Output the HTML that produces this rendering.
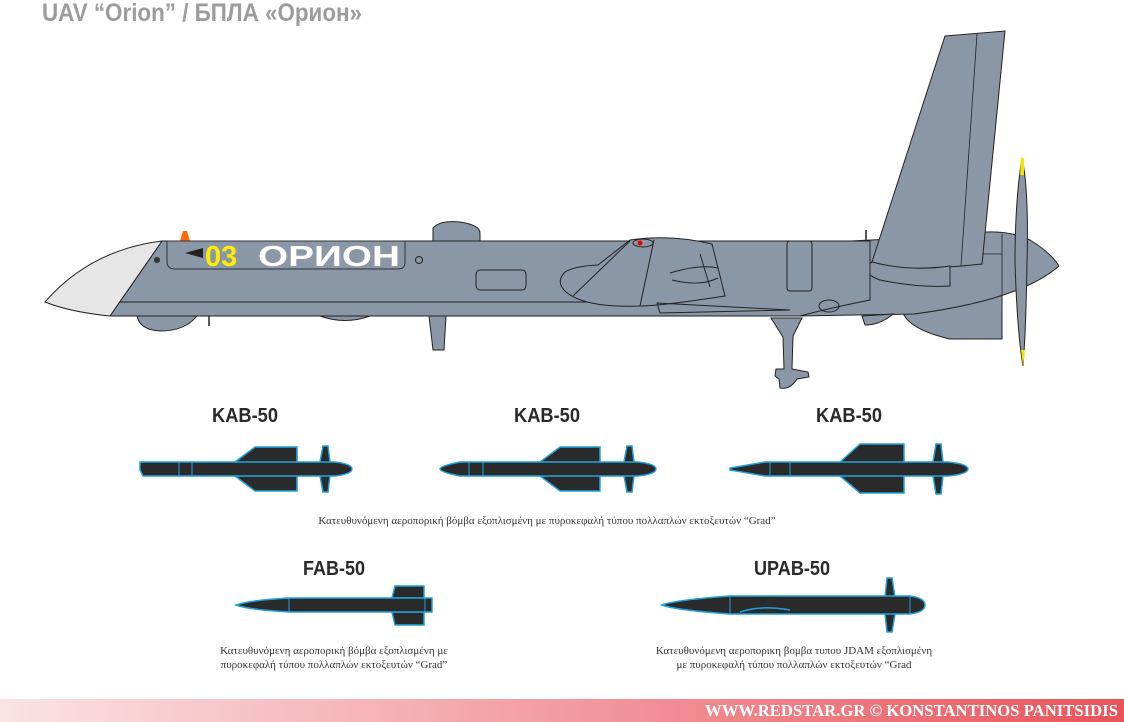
<!DOCTYPE html>
<html><head><meta charset="utf-8"><style>
html,body{margin:0;padding:0;background:#fff;}
svg{display:block;}
.lbl{font-family:"Liberation Sans",sans-serif;font-weight:bold;font-size:20px;fill:#2a2a2a;text-anchor:middle;}
.cap{font-family:"Liberation Serif",serif;font-size:11px;fill:#333;text-anchor:middle;}
.bomb{fill:#2a2a2a;stroke:#1fa3e0;stroke-width:1.5;}
.g{fill:#8a97a6;stroke:#222;stroke-width:1;}
</style></head><body>
<svg width="1124" height="722" viewBox="0 0 1124 722">
<defs>
<linearGradient id="ft" x1="0" x2="1" y1="0" y2="0">
<stop offset="0" stop-color="#fbe3e4"/><stop offset="1" stop-color="#e9545b"/>
</linearGradient>
</defs>
<text x="42" y="21" textLength="320" lengthAdjust="spacingAndGlyphs" style="font-family:'Liberation Sans',sans-serif;font-weight:bold;font-size:25px;fill:#9c9c9c;">UAV “Orion” / БПЛА «Орион»</text>

<g>
<!-- engine pod -->
<path class="g" d="M904,262 L1002,258 L1002,339 L950,339 Q912,330 904,315 Z"/>
<!-- aft fuselage + spinner -->
<path class="g" d="M850,241 L960,236 Q1000,226 1030,240 Q1050,252 1059,266 Q1020,300 914,314 L800,316 Z"/>
<line x1="1002" y1="234" x2="1002" y2="300" stroke="#222" stroke-width="0.8"/>
<line x1="960" y1="254" x2="1002" y2="254" stroke="#222" stroke-width="0.8"/>
<!-- vertical tail -->
<path class="g" d="M945,36 L1005,31 L982,264 Q930,270 870,268 Z"/>
<line x1="977" y1="34" x2="961" y2="266" stroke="#222" stroke-width="0.8"/>
<path class="g" d="M872,262 Q858,272 880,280 Q920,288 950,286 L950,266 Q910,272 872,262 Z"/>
<!-- propeller -->
<path class="g" d="M1022,158 Q1029,190 1027,262 Q1026,330 1023,366 Q1017,330 1015,262 Q1015,200 1022,158 Z"/>
<path d="M1021,158 L1024,158 L1024,175 L1020,175 Z" fill="#f2e600"/>
<path d="M1021,350 L1025,350 L1023,366 Z" fill="#f2e600"/>
<!-- lower bumps -->
<path class="g" d="M137,316 Q140,330 160,331 Q185,331 197,316 Z"/>
<path class="g" d="M320,316 Q345,325 370,316 Z"/>
<path class="g" d="M862,316 L865,325 Q880,325 893,314 Z"/>
<!-- ventral fin -->
<path class="g" d="M429,316 L446,316 L444,350 L433,350 Z"/>
<line x1="209" y1="316" x2="209" y2="326" stroke="#222" stroke-width="1.5"/>
<!-- landing gear -->
<path class="g" d="M771,318 L802,318 L793,336 L792,369 L808,372 L809,377 L797,379 Q790,390 780,388 L779,379 L775,376 L776,369 L784,369 L783,337 Z"/>
<!-- fuselage -->
<path class="g" d="M162,241 L870,241 L870,300 Q830,308 800,316 L110,316 Z"/>
<line x1="45" y1="302" x2="650" y2="302" stroke="#222" stroke-width="1"/>
<!-- nose -->
<path d="M45,302 Q90,250 162,241 L110,316 Q70,312 45,302 Z" fill="#e6e6e6" stroke="#222" stroke-width="1"/>
<!-- top dome -->
<path class="g" d="M433,241 L433,228 Q440,220 460,222 Q480,225 480,233 L480,241 Z"/>
<path d="M180,241 L183,231 L187,231 L190,241 Z" fill="#ff6a00"/>
<!-- name panel -->
<path d="M167,241 L405,241 L405,262 Q405,269 398,269 L176,269 Q167,269 167,262 Z" fill="#8a97a6" stroke="#333" stroke-width="1"/>
<path d="M185,253 L203,248 L203,258 Z" fill="#222"/>
<text x="205" y="266" style="font-family:'Liberation Sans',sans-serif;font-weight:bold;font-size:29px;fill:#ffec00;">03</text>
<text x="258" y="266" textLength="142" lengthAdjust="spacingAndGlyphs" style="font-family:'Liberation Sans',sans-serif;font-weight:bold;font-size:29px;fill:#fff;">ОРИОН</text>
<circle cx="419" cy="260" r="3.5" fill="none" stroke="#222"/>
<circle cx="157" cy="260" r="3" fill="#333"/>
<!-- hatch -->
<rect x="476" y="270" width="50" height="20" rx="4" fill="none" stroke="#222"/>
<!-- wing root -->
<path class="g" d="M565,272 Q575,266 598,265 L630,240 Q670,234 712,244 L725,296 Q660,306 640,306 Q585,308 566,292 Q555,282 565,272 Z"/>
<line x1="654" y1="240" x2="640" y2="306" stroke="#222"/>
<line x1="573" y1="296" x2="630" y2="241" stroke="#222"/>
<line x1="700" y1="254" x2="710" y2="287" stroke="#222"/>
<path d="M670,273 Q700,264 718,268 M672,280 Q700,287 718,278" fill="none" stroke="#222"/>
<ellipse cx="643" cy="243" rx="10" ry="4" fill="#8a97a6" stroke="#222"/>
<circle cx="640" cy="243" r="2.5" fill="#e00"/>
<rect x="787" y="241" width="25" height="50" rx="3" fill="none" stroke="#222"/>
<path d="M657,303 L790,310 L660,313 Z" fill="none" stroke="#222"/>
<ellipse cx="829" cy="306" rx="10" ry="6" fill="none" stroke="#222"/>
<line x1="866" y1="230" x2="866" y2="241" stroke="#222" stroke-width="1.5"/>
</g>

<!-- KAB-50 labels -->
<text class="lbl" x="245" y="422" textLength="66" lengthAdjust="spacingAndGlyphs">KAB-50</text>
<text class="lbl" x="547" y="422" textLength="66" lengthAdjust="spacingAndGlyphs">KAB-50</text>
<text class="lbl" x="849" y="422" textLength="66" lengthAdjust="spacingAndGlyphs">KAB-50</text>

<g>
<path class="bomb" d="M235,462 L255,447 L297,447 L297,491 L255,491 L235,476 Z"/>
<path class="bomb" d="M320,462 L323,446 L328,446 L330,462 L330,476 L328,492 L323,492 L320,476 Z"/>
<path class="bomb" d="M140,462 L335,462 Q352,464 352,469 Q352,474 335,476 L143,476 L140,470 Z"/>
<line x1="179" y1="462" x2="179" y2="476" stroke="#1fa3e0"/><line x1="192" y1="462" x2="192" y2="476" stroke="#1fa3e0"/>
</g>
<g>
<path class="bomb" d="M540,462 L560,447 L600,447 L600,491 L560,491 L540,476 Z"/>
<path class="bomb" d="M624,462 L627,446 L632,446 L634,462 L634,476 L632,492 L627,492 L624,476 Z"/>
<path class="bomb" d="M460,462 L638,462 Q656,464 656,469 Q656,474 638,476 L460,476 Q440,472 440,469 Q440,466 460,462 Z"/>
<line x1="469" y1="462" x2="469" y2="476" stroke="#1fa3e0"/><line x1="483" y1="462" x2="483" y2="476" stroke="#1fa3e0"/>
</g>
<g>
<path class="bomb" d="M840,462 L860,444 L904,444 L904,493 L860,493 L840,476 Z"/>
<path class="bomb" d="M933,462 L936,444 L941,444 L943,462 L943,476 L941,494 L936,494 L933,476 Z"/>
<path class="bomb" d="M765,462 L948,462 Q968,464 968,469 Q968,474 948,476 L765,476 L730,470 L730,468 Z"/>
<line x1="770" y1="462" x2="770" y2="476" stroke="#1fa3e0"/><line x1="790" y1="462" x2="790" y2="476" stroke="#1fa3e0"/>
</g>
<text class="cap" x="547" y="524">Κατευθυνόμενη αεροπορική βόμβα εξοπλισμένη με πυροκεφαλή τύπου πολλαπλών εκτοξευτών “Grad”</text>

<text class="lbl" x="334" y="575" textLength="62" lengthAdjust="spacingAndGlyphs">FAB-50</text>
<g>
<path class="bomb" d="M392,598 L395,586 L424,586 L424,598 Z"/>
<path class="bomb" d="M392,612 L395,625 L424,625 L424,612 Z"/>
<path class="bomb" d="M290,598 L432,598 L432,612 L290,612 Q250,610 236,605 Q250,600 290,598 Z"/>
<line x1="289" y1="598" x2="289" y2="612" stroke="#1fa3e0"/><line x1="425" y1="598" x2="425" y2="612" stroke="#1fa3e0"/>
</g>
<text class="cap" x="334" y="654">Κατευθυνόμενη αεροπορική βόμβα εξοπλισμένη με</text>
<text class="cap" x="334" y="668">πυροκεφαλή τύπου πολλαπλών εκτοξευτών “Grad”</text>

<text class="lbl" x="792" y="575" textLength="76" lengthAdjust="spacingAndGlyphs">UPAB-50</text>
<g>
<path class="bomb" d="M885,597 L887,578 L892,578 L895,597 L895,614 L892,632 L887,632 L885,614 Z"/>
<path class="bomb" d="M730,596 L910,596 Q925,598 925,605 Q925,612 910,614 L730,614 Q675,610 662,605 Q675,600 730,596 Z"/>
<line x1="730" y1="596" x2="730" y2="614" stroke="#1fa3e0"/><line x1="910" y1="596" x2="910" y2="614" stroke="#1fa3e0"/>
<path d="M740,612 Q760,605 790,610" fill="none" stroke="#1fa3e0" stroke-width="1.5"/>
</g>
<text class="cap" x="794" y="654">Κατευθυνόμενη αεροπορικη βομβα τυπου JDAM εξοπλισμένη</text>
<text class="cap" x="794" y="668">με πυροκεφαλή τύπου πολλαπλών εκτοξευτών “Grad</text>

<rect x="0" y="699" width="1124" height="23" fill="url(#ft)"/>
<text x="1118" y="716" text-anchor="end" textLength="413" lengthAdjust="spacingAndGlyphs" style="font-family:'Liberation Serif',serif;font-weight:bold;font-size:17px;fill:#fff;">WWW.REDSTAR.GR © KONSTANTINOS PANITSIDIS</text>
</svg>
</body></html>
